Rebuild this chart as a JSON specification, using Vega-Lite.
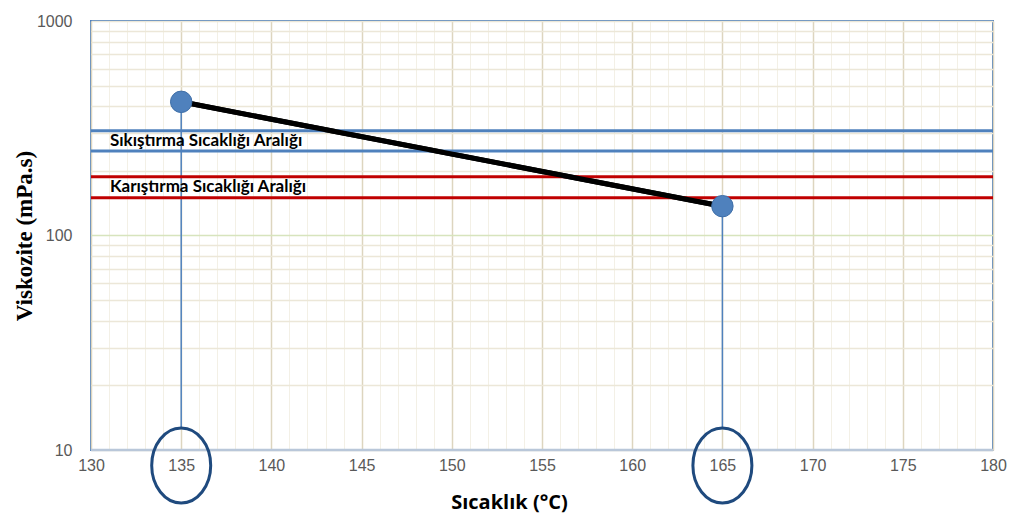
{
  "$schema": "https://vega.github.io/schema/vega-lite/v6.json",
  "width": 902,
  "height": 429,
  "autosize": {"type": "none"},
  "padding": {"left": 91, "top": 21, "right": 26, "bottom": 79},
  "background": "white",
  "config": {
    "view": {"stroke": "#4f81bd", "strokeWidth": 2},
    "font": "Lato"
  },
  "datasets": {
    "pts": [{"t": 135, "v": 420}, {"t": 165, "v": 137}],
    "ranges": [
      {"v": 308, "kind": "Sıkıştırma"},
      {"v": 248, "kind": "Sıkıştırma"},
      {"v": 188, "kind": "Karıştırma"},
      {"v": 150, "kind": "Karıştırma"}
    ],
    "labels": [
      {"t": 131.05, "v": 276, "label": "Sıkıştırma Sıcaklığı Aralığı"},
      {"t": 131.05, "v": 168, "label": "Karıştırma Sıcaklığı Aralığı"}
    ],
    "drops": [{"t": 135, "v": 420, "v2": 12.7}, {"t": 165, "v": 137, "v2": 12.7}],
    "ellipses": [{"t": 135, "v": 8.47}, {"t": 165, "v": 8.47}],
    "base": [{"v": 10}]
  },
  "layer": [
    {
      "data": {"name": "pts"},
      "mark": {"type": "line", "color": "black", "strokeWidth": 5},
      "encoding": {
        "x": {
          "field": "t", "type": "quantitative",
          "scale": {"domain": [130, 180], "nice": false, "zero": false},
          "axis": {
            "title": "Sıcaklık (°C)",
            "titleFont": "Open Sans",
            "titleFontSize": 20,
            "titleFontWeight": "bold",
            "titleColor": "black",
            "titleX": 418,
            "titleY": 58,
            "titleAnchor": null,
            "titleAlign": "center",
            "titleBaseline": "alphabetic",
            "tickCount": 200,
            "values": [130,131,132,133,134,135,136,137,138,139,140,141,142,143,144,145,146,147,148,149,150,151,152,153,154,155,156,157,158,159,160,161,162,163,164,165,166,167,168,169,170,171,172,173,174,175,176,177,178,179,180],
            "labelExpr": "datum.value % 5 === 0 ? format(datum.value, 'd') : ''",
            "labelFont": "Liberation Sans",
            "labelFontSize": 16,
            "labelColor": "#595959",
            "labelPadding": 7,
            "labelFlush": false,
            "labelOverlap": false,
            "ticks": false,
            "domain": false,
            "grid": true,
            "gridColor": {"condition": {"test": "datum.value % 5 === 0", "value": "#ddd5bf"}, "value": "#f3f0e6"},
            "gridWidth": {"condition": {"test": "datum.value % 5 === 0", "value": 1.5}, "value": 1}
          }
        },
        "y": {
          "field": "v", "type": "quantitative",
          "scale": {"type": "log", "domain": [10, 1000], "nice": false},
          "axis": {
            "title": "Viskozite (mPa.s)",
            "titleFont": "Liberation Serif",
            "titleFontSize": 23,
            "titleFontWeight": "bold",
            "titleColor": "black",
            "titlePadding": 0,
            "tickCount": 200,
            "values": [10,20,30,40,50,60,70,80,90,100,200,300,400,500,600,700,800,900,1000],
            "labelExpr": "datum.value == 10 || datum.value == 100 || datum.value == 1000 ? format(datum.value, 'd') : ''",
            "labelFont": "Liberation Sans",
            "labelFontSize": 16,
            "labelColor": "#595959",
            "labelPadding": 19,
            "labelOverlap": false,
            "labelFlush": false,
            "ticks": false,
            "domain": false,
            "grid": true,
            "gridColor": {"condition": {"test": "datum.value == 100", "value": "#d7e4bd"}, "value": "#ece7d8"},
            "gridWidth": 1.3
          }
        }
      }
    },
    {
      "data": {"name": "base"},
      "mark": {"type": "rule", "color": "#b9c7d9", "strokeWidth": 2.5},
      "encoding": {
        "y": {"field": "v", "type": "quantitative"}
      }
    },
    {
      "data": {"name": "drops"},
      "mark": {"type": "rule", "color": "#4f81bd", "strokeWidth": 1.5},
      "encoding": {
        "x": {"field": "t", "type": "quantitative"},
        "y": {"field": "v", "type": "quantitative"},
        "y2": {"field": "v2"}
      }
    },
    {
      "data": {"name": "ranges"},
      "mark": {"type": "rule", "strokeWidth": 3},
      "encoding": {
        "y": {"field": "v", "type": "quantitative"},
        "color": {
          "field": "kind", "type": "nominal",
          "scale": {"domain": ["Sıkıştırma", "Karıştırma"], "range": ["#4f81bd", "#c00000"]},
          "legend": null
        }
      }
    },
    {
      "data": {"name": "pts"},
      "mark": {"type": "line", "color": "black", "strokeWidth": 5},
      "encoding": {
        "x": {"field": "t", "type": "quantitative"},
        "y": {"field": "v", "type": "quantitative"}
      }
    },
    {
      "data": {"name": "labels"},
      "mark": {"type": "text", "align": "left", "baseline": "middle", "font": "Lato", "fontWeight": "bold", "fontSize": 17, "color": "black"},
      "encoding": {
        "x": {"field": "t", "type": "quantitative"},
        "y": {"field": "v", "type": "quantitative"},
        "text": {"field": "label"}
      }
    },
    {
      "data": {"name": "pts"},
      "mark": {"type": "point", "shape": "circle", "filled": true, "size": 460, "color": "#4f81bd", "stroke": "#3f6fa8", "strokeWidth": 1, "opacity": 1},
      "encoding": {
        "x": {"field": "t", "type": "quantitative"},
        "y": {"field": "v", "type": "quantitative"}
      }
    },
    {
      "data": {"name": "ellipses"},
      "mark": {
        "type": "point",
        "shape": "M0,-1.27C0.552,-1.27 1,-0.701 1,0C1,0.701 0.552,1.27 0,1.27C-0.552,1.27 -1,0.701 -1,0C-1,-0.701 -0.552,-1.27 0,-1.27Z",
        "size": 3481,
        "filled": false,
        "stroke": "#1f4a7e",
        "strokeWidth": 3,
        "opacity": 1,
        "clip": false
      },
      "encoding": {
        "x": {"field": "t", "type": "quantitative"},
        "y": {"field": "v", "type": "quantitative"}
      }
    }
  ]
}
